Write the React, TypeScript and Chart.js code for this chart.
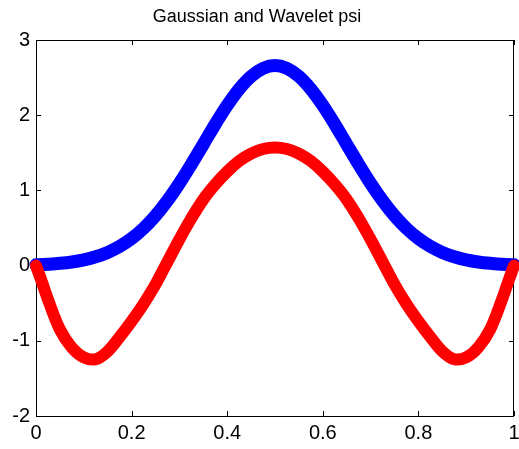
import React, { useEffect, useRef } from "react";
import { Chart, registerables } from "chart.js";

Chart.register(...registerables);

const titleText = "Gaussian and Wavelet psi";

const xValues = [
  0, 0.0125, 0.025, 0.05, 0.075, 0.1, 0.125, 0.15, 0.175, 0.2, 0.225, 0.25, 0.275, 0.3, 0.325, 0.35,
  0.375, 0.4, 0.425, 0.45, 0.475, 0.5, 0.525, 0.55, 0.575, 0.6, 0.625, 0.65, 0.675, 0.7, 0.725, 0.75,
  0.775, 0.8, 0.825, 0.85, 0.875, 0.9, 0.925, 0.95, 0.975, 0.9875, 1,
];

const gaussianValues = [
  0.01, 0.014, 0.018, 0.03, 0.048, 0.076, 0.117, 0.175, 0.255, 0.36, 0.495, 0.663, 0.864, 1.094, 1.347,
  1.613, 1.88, 2.13, 2.347, 2.516, 2.623, 2.66, 2.623, 2.516, 2.347, 2.13, 1.88, 1.613, 1.347, 1.094,
  0.864, 0.663, 0.495, 0.36, 0.255, 0.175, 0.117, 0.076, 0.048, 0.03, 0.018, 0.014, 0.01,
];

const psiValues = [
  0, -0.22, -0.45, -0.85, -1.09, -1.22, -1.245, -1.14, -0.95, -0.74, -0.51, -0.25, 0.05, 0.35, 0.63,
  0.88, 1.08, 1.25, 1.39, 1.49, 1.55, 1.57, 1.55, 1.49, 1.39, 1.25, 1.08, 0.88, 0.63, 0.35, 0.05,
  -0.25, -0.51, -0.74, -0.95, -1.14, -1.245, -1.22, -1.09, -0.85, -0.45, -0.22, 0,
];

const xTicks = [0, 0.2, 0.4, 0.6, 0.8, 1];
const yTicks = [-2, -1, 0, 1, 2, 3];

const FONT = "'Liberation Sans', Arial, Helvetica, sans-serif";

const framePlugin = {
  id: "matlabFrame",
  beforeDatasetsDraw(chart: any) {
    const { ctx, chartArea, scales } = chart;
    const { left, right, top, bottom } = chartArea;
    const xs = scales.x;
    const ys = scales.y;
    ctx.save();
    ctx.strokeStyle = "#000";
    ctx.lineWidth = 1;
    ctx.beginPath();
    ctx.rect(left + 0.5, top + 0.5, right - left - 1, bottom - top);
    ctx.stroke();
    const tl = 5;
    ctx.beginPath();
    xTicks.forEach((v) => {
      const px = Math.round(xs.getPixelForValue(v)) + 0.5;
      ctx.moveTo(px, bottom);
      ctx.lineTo(px, bottom - tl);
      ctx.moveTo(px, top);
      ctx.lineTo(px, top + tl);
    });
    yTicks.forEach((v) => {
      const py = Math.round(ys.getPixelForValue(v)) + 0.5;
      ctx.moveTo(left, py);
      ctx.lineTo(left + tl, py);
      ctx.moveTo(right, py);
      ctx.lineTo(right - tl, py);
    });
    ctx.stroke();
    ctx.restore();
  },
};

export default function App() {
  const canvasRef = useRef<HTMLCanvasElement | null>(null);

  useEffect(() => {
    document.body.style.margin = "0";
    const canvas = canvasRef.current;
    if (!canvas) return;
    const gaussianPoints = xValues.map((x, i) => ({ x, y: gaussianValues[i] }));
    const psiPoints = xValues.map((x, i) => ({ x, y: psiValues[i] }));

    const chart = new Chart(canvas, {
      type: "line",
      data: {
        datasets: [
          {
            label: "Gaussian",
            data: gaussianPoints,
            borderColor: "#0000ff",
            backgroundColor: "#0000ff",
            borderWidth: 13,
            borderCapStyle: "round",
            borderJoinStyle: "round",
            pointRadius: 0,
            tension: 0.35,
            order: 1,
            clip: false as any,
          },
          {
            label: "psi",
            data: psiPoints,
            borderColor: "#ff0000",
            backgroundColor: "#ff0000",
            borderWidth: 12,
            borderCapStyle: "round",
            borderJoinStyle: "round",
            pointRadius: 0,
            tension: 0.35,
            order: 0,
            clip: false as any,
          },
        ],
      },
      options: {
        animation: false,
        responsive: false,
        maintainAspectRatio: false,
        layout: { padding: { top: 0, left: 0, right: 5, bottom: 0 } },
        plugins: {
          legend: { display: false },
          tooltip: { enabled: false },
          title: {
            display: true,
            text: titleText,
            color: "#000",
            font: { family: FONT, size: 18, weight: "normal" as any, lineHeight: 1.2 },
            padding: { top: 6, bottom: 12.4 },
          },
        },
        scales: {
          x: {
            type: "linear",
            min: 0,
            max: 1,
            grid: { display: false, drawTicks: false },
            border: { display: false },
            afterBuildTicks: (scale: any) => {
              scale.ticks = xTicks.map((v) => ({ value: v }));
            },
            ticks: {
              color: "#000",
              padding: 5,
              maxRotation: 0,
              autoSkip: false,
              font: { family: FONT, size: 20 },
              callback: (v: any) => String(Number(Number(v).toFixed(1))),
            },
            afterFit: (scale: any) => {
              scale.height = 33;
              scale.paddingLeft = 0;
              scale.paddingRight = 0;
            },
          },
          y: {
            type: "linear",
            min: -2,
            max: 3,
            grid: { display: false, drawTicks: false },
            border: { display: false },
            afterBuildTicks: (scale: any) => {
              scale.ticks = yTicks.map((v) => ({ value: v }));
            },
            ticks: {
              color: "#000",
              padding: 6,
              autoSkip: false,
              font: { family: FONT, size: 20 },
              callback: (v: any) => String(v),
            },
            afterFit: (scale: any) => {
              scale.width = 36;
              scale.paddingTop = 0;
              scale.paddingBottom = 0;
            },
          },
        },
      },
      plugins: [framePlugin],
    });
    return () => chart.destroy();
  }, []);

  return (
    <div style={{ width: 519, height: 449 }}>
      <canvas ref={canvasRef} width={519} height={449} style={{ display: "block" }} />
    </div>
  );
}
